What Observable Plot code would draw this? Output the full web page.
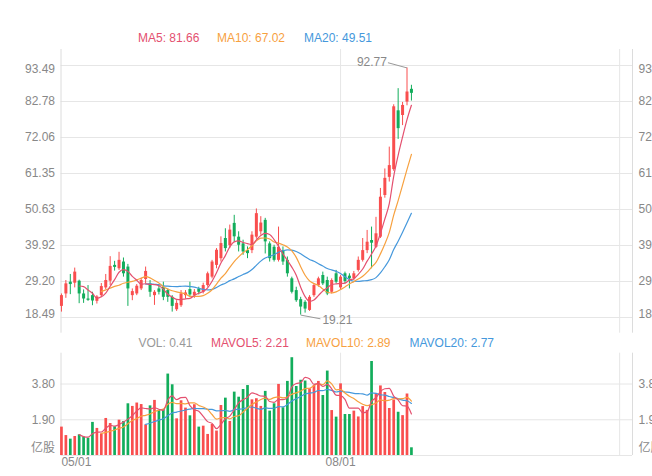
<!DOCTYPE html>
<html><head><meta charset="utf-8">
<script src="https://cdn.jsdelivr.net/npm/d3@7"></script>
<script src="https://cdn.jsdelivr.net/npm/@observablehq/plot@0.6"></script>
<style>
html,body{margin:0;padding:0;background:#fff;overflow:hidden;}
#wrap{position:relative;width:652px;height:476px;font-family:"Liberation Sans",Arial,"Noto Sans CJK SC",sans-serif;}
#wrap svg{position:absolute;left:0;}
.lg{position:absolute;font-size:12px;line-height:14px;white-space:nowrap;z-index:2;}
</style></head><body><div id="wrap"></div>
<script>
// ---- data ----
const opens = [21.8,25.5,29.0,28.7,29.3,25.5,24.0,25.0,23.3,25.0,
 27.3,29.3,34.0,33.0,35.0,33.5,25.0,25.5,27.0,29.8,
 28.5,25.0,27.0,27.5,26.5,24.5,20.8,22.0,25.0,26.8,
 25.0,27.0,26.0,28.0,30.5,34.0,36.0,42.0,39.9,46.5,
 42.4,40.4,38.4,38.4,42.4,44.0,47.4,40.4,39.4,35.5,
 38.4,35.5,30.0,26.5,23.8,23.0,20.6,25.0,28.0,31.0,
 29.5,26.0,31.5,27.3,31.5,30.8,30.0,32.5,35.5,38.4,
 41.4,39.4,42.4,54.8,60.2,62.5,80.0,78.6,82.6,86.4];
const highs = [25.5,29.5,31.3,33.2,29.6,26.7,28.0,26.0,25.0,28.6,
 31.3,36.6,35.2,37.9,36.2,34.3,27.0,28.3,30.2,33.5,
 29.5,26.5,28.0,29.0,27.0,25.0,23.5,26.5,26.5,29.0,
 26.8,27.5,28.7,32.0,35.5,39.0,42.5,44.9,46.0,48.9,
 44.0,41.5,39.5,44.0,50.8,48.5,48.0,41.0,40.0,45.4,
 39.5,36.5,30.5,27.5,24.5,23.5,25.0,28.5,30.5,32.0,
 30.5,30.0,32.5,31.0,32.0,31.5,32.2,36.5,42.0,44.4,
 45.4,48.3,56.9,62.7,69.2,81.8,86.6,82.5,92.77,87.6];
const lows = [20.1,24.2,25.3,27.3,22.6,22.7,23.3,22.0,22.5,24.4,
 26.8,28.0,32.3,32.5,30.5,21.8,23.5,25.0,26.5,28.5,
 24.5,22.1,25.2,23.5,23.0,20.1,20.3,21.5,24.0,24.5,
 24.2,25.2,25.5,27.5,30.0,33.0,35.0,38.0,39.0,40.9,
 38.0,37.0,36.0,37.5,41.8,43.0,37.4,35.0,35.0,35.0,
 34.0,30.5,25.5,23.0,19.21,19.8,20.3,24.5,27.5,28.0,
 25.0,25.5,28.5,26.8,28.5,27.0,29.5,32.0,35.0,37.5,
 33.0,39.0,42.0,54.0,58.8,62.0,71.5,75.6,81.5,82.9];
const closes = [25.0,28.5,28.3,32.0,25.5,24.0,23.6,23.4,24.6,27.7,
 29.5,33.7,33.4,35.5,31.5,27.0,26.2,27.8,29.5,32.2,
 26.0,26.0,26.0,24.5,24.5,21.8,22.7,25.5,25.8,25.2,
 26.0,26.0,28.0,31.5,35.0,38.5,40.5,39.0,44.5,42.5,
 40.0,38.0,37.5,43.0,49.4,46.6,41.0,36.0,35.5,39.4,
 35.0,31.5,26.0,23.5,21.6,21.0,24.5,28.0,30.0,28.5,
 25.5,29.5,29.0,30.5,29.2,30.0,31.5,35.5,38.4,40.9,
 40.6,43.4,54.3,59.9,63.7,81.2,74.7,81.6,85.6,85.2];
const volumes = [1.51,1.06,0.87,1.01,1.10,0.98,0.92,1.76,1.44,1.15,
 1.97,1.70,1.53,1.88,1.81,2.75,2.61,2.79,2.71,1.63,
 2.64,2.93,2.39,2.43,4.33,3.76,1.95,2.91,2.52,2.11,
 2.70,1.51,1.56,1.12,1.65,1.30,2.66,3.05,1.81,3.37,
 3.10,3.51,3.72,2.96,3.02,2.61,3.41,2.36,2.75,3.78,
 2.54,3.94,5.20,3.67,4.00,3.96,3.55,3.72,3.94,3.19,
 4.49,2.39,2.04,3.81,2.18,2.18,2.36,2.05,2.60,2.40,
 5.00,3.30,3.70,3.35,2.50,2.95,2.30,2.12,3.27,0.41];
const priceTicks = [18.49, 29.20, 39.92, 50.63, 61.35, 72.06, 82.78, 93.49];
const volTicks = [1.90, 3.80];
const volUnit = "亿股";
const dateTicks = [{i: 0, label: "05/01"}, {i: 63, label: "08/01"}];
const monthGrid = [63, 126];

// ---- styling ----
const RED = "#f94e4e", GREEN = "#12ad5b";
const C5 = "#e4506f", C10 = "#f7a13f", C20 = "#4598dc";
const GRID = "#e6e6e6", AXIS = "#dcdcdc", TXT = "#888";
const FONT = '"Liberation Sans", Arial, "Noto Sans CJK SC", sans-serif';
const XDOM = [-0.1, 128.9];

const candles = closes.map((c, i) => ({i, o: opens[i], h: highs[i], l: lows[i], c, v: volumes[i], up: c >= opens[i]}));
function ma(arr, n) {
  const out = [];
  for (let i = n - 1; i < arr.length; i++) out.push({i, value: d3.mean(arr.slice(i - n + 1, i + 1))});
  return out;
}
const ma5 = ma(closes, 5), ma10 = ma(closes, 10), ma20 = ma(closes, 20);
const mv5 = ma(volumes, 5), mv10 = ma(volumes, 10), mv20 = ma(volumes, 20);
const last = a => a[a.length - 1].value.toFixed(2);

const iMax = d3.maxIndex(highs), iMin = d3.minIndex(lows);
const extremes = [
  {x1: iMax, y1: highs[iMax], x2: iMax - 4.3, y2: highs[iMax] + 1.55, label: highs[iMax].toFixed(2), anchor: "end"},
  {x1: iMin, y1: lows[iMin], x2: iMin + 4.45, y2: lows[iMin] - 1.1, label: lows[iMin].toFixed(2), anchor: "start"}
];

const frameLines = [
  Plot.ruleX([XDOM[0]], {stroke: AXIS}),
  Plot.ruleX([XDOM[1]], {stroke: AXIS}),
  Plot.ruleX(monthGrid, {stroke: GRID})
];

// edge tick labels sit slightly inside the frame
const tickDy = (d, arr) => d === arr[0] ? -3.5 : d === arr[arr.length - 1] ? 4 : 0;
const priceLabelMarks = [];
for (const t of priceTicks) {
  const dy = tickDy(t, priceTicks);
  priceLabelMarks.push(Plot.text([t], {y: d => d, frameAnchor: "left", dx: -6, dy, textAnchor: "end", text: d => d.toFixed(2), fill: TXT, fontSize: 12}));
  priceLabelMarks.push(Plot.text([t], {y: d => d, frameAnchor: "right", dx: 6, dy, textAnchor: "start", text: d => d.toFixed(2), fill: TXT, fontSize: 12}));
}

const mainPlot = Plot.plot({
  width: 652, height: 333,
  marginLeft: 60.5, marginRight: 20, marginTop: 49, marginBottom: 0.3,
  x: {domain: XDOM, axis: null},
  y: {domain: [13.82, 98.25], axis: null},
  color: {type: "identity"},
  style: {fontFamily: FONT, fontSize: "12px", background: "transparent"},
  marks: [
    Plot.ruleY(priceTicks, {stroke: GRID}),
    ...frameLines,
    Plot.ruleX(candles, {x: "i", y1: "l", y2: "h", stroke: d => d.up ? RED : GREEN, strokeWidth: 1}),
    Plot.ruleX(candles, {x: "i", y1: d => Math.min(d.o, d.c), y2: d => Math.max(d.o, d.c), stroke: d => d.up ? RED : GREEN, strokeWidth: 3}),
    Plot.line(ma20, {x: "i", y: "value", stroke: C20, strokeWidth: 1.2, curve: "monotone-x"}),
    Plot.line(ma10, {x: "i", y: "value", stroke: C10, strokeWidth: 1.2, curve: "monotone-x"}),
    Plot.line(ma5, {x: "i", y: "value", stroke: C5, strokeWidth: 1.2, curve: "monotone-x"}),
    Plot.link(extremes, {x1: "x1", y1: "y1", x2: "x2", y2: "y2", stroke: "#999", strokeWidth: 1}),
    Plot.text(extremes.filter(d => d.anchor === "end"), {x: "x2", y: "y2", text: "label", textAnchor: "end", dx: -1, dy: -1, fill: TXT, fontSize: 12}),
    Plot.text(extremes.filter(d => d.anchor === "start"), {x: "x2", y: "y2", text: "label", textAnchor: "start", dx: 2, dy: 1.5, fill: TXT, fontSize: 12}),
    ...priceLabelMarks
  ]
});
mainPlot.style.top = "0px";

const volPlot = Plot.plot({
  width: 652, height: 143,
  marginLeft: 60.5, marginRight: 20, marginTop: 19.7, marginBottom: 21,
  x: {domain: XDOM, axis: null},
  y: {domain: [0, 5.44], axis: null},
  color: {type: "identity"},
  style: {fontFamily: FONT, fontSize: "12px", background: "transparent"},
  marks: [
    Plot.ruleY([0, ...volTicks], {stroke: GRID}),
    ...frameLines,
    Plot.ruleX(candles, {x: "i", y1: 0, y2: "v", stroke: d => d.up ? RED : GREEN, strokeWidth: 2.7}),
    Plot.line(mv20, {x: "i", y: "value", stroke: C20, strokeWidth: 1.2, curve: "monotone-x"}),
    Plot.line(mv10, {x: "i", y: "value", stroke: C10, strokeWidth: 1.2, curve: "monotone-x"}),
    Plot.line(mv5, {x: "i", y: "value", stroke: C5, strokeWidth: 1.2, curve: "monotone-x"}),
    Plot.text(volTicks, {y: d => d, frameAnchor: "left", dx: -6, textAnchor: "end", text: d => d.toFixed(2), fill: TXT, fontSize: 12}),
    Plot.text(volTicks, {y: d => d, frameAnchor: "right", dx: 6, textAnchor: "start", text: d => d.toFixed(2), fill: TXT, fontSize: 12}),
    Plot.text([0], {y: d => d, frameAnchor: "left", dx: -6, dy: -7, textAnchor: "end", text: () => volUnit, fill: TXT, fontSize: 12}),
    Plot.text([0], {y: d => d, frameAnchor: "right", dx: 6, dy: -7, textAnchor: "start", text: () => volUnit, fill: TXT, fontSize: 12}),
    Plot.text(dateTicks.slice(0, 1), {x: "i", frameAnchor: "bottom", dy: 10.5, text: "label", textAnchor: "start", fill: TXT, fontSize: 12}),
    Plot.text(dateTicks.slice(1), {x: "i", frameAnchor: "bottom", dy: 10.5, text: "label", textAnchor: "middle", fill: TXT, fontSize: 12})
  ]
});
volPlot.style.top = "333px";

const wrap = document.getElementById("wrap");
wrap.appendChild(mainPlot);
wrap.appendChild(volPlot);

function legend(left, top, color, text) {
  const d = document.createElement("div");
  d.className = "lg";
  d.style.left = left + "px"; d.style.top = top + "px"; d.style.color = color;
  d.textContent = text;
  wrap.appendChild(d);
}
legend(138, 31, C5, "MA5: " + last(ma5));
legend(217, 31, C10, "MA10: " + last(ma10));
legend(304, 31, C20, "MA20: " + last(ma20));
legend(138.5, 336, "#999", "VOL: " + volumes[volumes.length - 1].toFixed(2));
legend(211, 336, C5, "MAVOL5: " + last(mv5));
legend(306, 336, C10, "MAVOL10: " + last(mv10));
legend(409.5, 336, C20, "MAVOL20: " + last(mv20));
</script></body></html>
